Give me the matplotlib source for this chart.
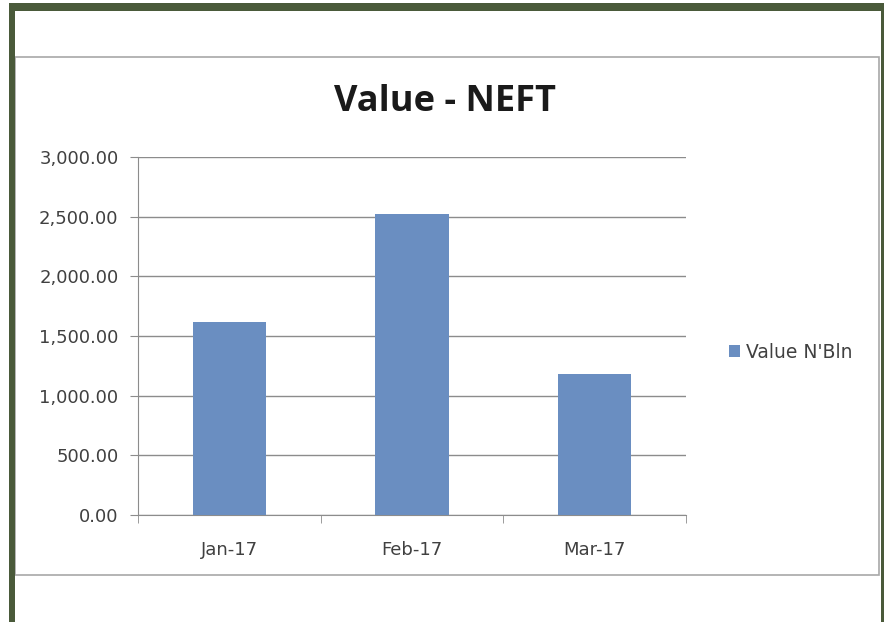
import matplotlib
matplotlib.use("Agg")
import matplotlib.pyplot as plt
from matplotlib.patches import Rectangle
from matplotlib.ticker import FuncFormatter, FixedLocator

# Chart data
months = ["Jan-17", "Feb-17", "Mar-17"]
values = [1615, 2520, 1180]
series_name = "Value N'Bln"
title = "Value - NEFT"

W, H = 884, 622
fig = plt.figure(figsize=(W / 100, H / 100), dpi=100)
fig.patch.set_facecolor("white")

def px(x0, y0, x1, y1):
    # pixel box (top-left origin) -> figure fraction rect
    return (x0 / W, 1 - y1 / H, (x1 - x0) / W, (y1 - y0) / H)

green = "#4a5a3a"
# dark green frame
for box in [(9, 3, 884, 11), (9, 3, 15, 622), (881, 3, 884, 622)]:
    x, y, w, h = px(*box)
    fig.add_artist(Rectangle((x, y), w, h, transform=fig.transFigure,
                             facecolor=green, edgecolor="none", zorder=5))

# chart area outline
x, y, w, h = px(15, 57, 879, 575)
fig.add_artist(Rectangle((x, y), w, h, transform=fig.transFigure,
                         facecolor="white", edgecolor="#a8a8a8", lw=1.2, zorder=0))

ax = fig.add_axes(px(138, 157, 686, 515))
ax.set_facecolor("none")
pos = range(len(months))
bars = ax.bar(pos, values, width=0.4, color="#6a8ec1", zorder=3, label=series_name)

ax.set_xlim(-0.5, 2.5)
ax.set_ylim(0, 3000)
ax.set_yticks(range(0, 3001, 500))
ax.yaxis.set_major_formatter(FuncFormatter(lambda v, p: f"{v:,.2f}"))
ax.grid(axis="y", color="#8c8c8c", lw=1, zorder=1)

ax.set_xticks(list(pos))
ax.set_xticklabels(months)
ax.xaxis.set_minor_locator(FixedLocator([-0.5, 0.5, 1.5, 2.5]))
ax.tick_params(axis="x", which="major", length=0, pad=19, labelsize=13, labelcolor="#404040")
ax.tick_params(axis="x", which="minor", length=6, color="#8c8c8c")
ax.tick_params(axis="y", length=6, color="#8c8c8c", labelsize=13, labelcolor="#404040", pad=8)

for s in ["top", "right"]:
    ax.spines[s].set_visible(False)
for s in ["left", "bottom"]:
    ax.spines[s].set_color("#8c8c8c")

fig.text(445 / W, 1 - 102 / H, title, ha="center", va="center",
         fontsize=26, fontweight="bold", family="Open Sans", color="#1a1a1a")

leg = fig.legend(handles=[bars], labels=[series_name], loc="center left",
                 bbox_to_anchor=(712 / W, 1 - 352 / H), frameon=False,
                 fontsize=13.5, handlelength=0.6, handleheight=0.6, handletextpad=0.3)
for t in leg.get_texts():
    t.set_color("#404040")

fig.savefig("out.png", dpi=100)
